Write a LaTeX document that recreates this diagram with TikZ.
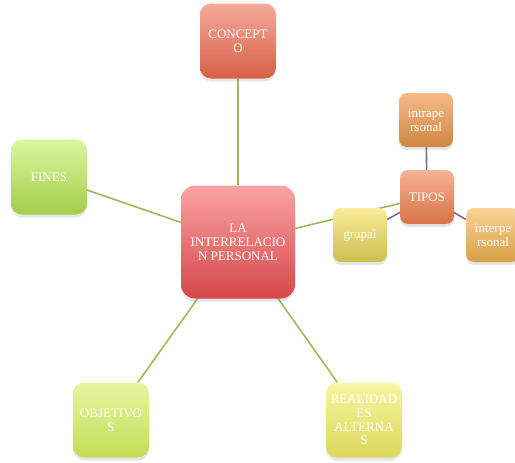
\documentclass[tikz,border=0pt]{standalone}
\usepackage{fontspec}
\setmainfont{Liberation Serif}
\usepackage{tikz}
\usetikzlibrary{shadows,backgrounds}

\definecolor{lnGreen}{RGB}{155,187,89}
\definecolor{lnPurple}{RGB}{128,100,162}
\definecolor{laTop}{RGB}{250,163,163}   \definecolor{laBot}{RGB}{214,71,74}
\definecolor{conTop}{RGB}{245,170,155}  \definecolor{conBot}{RGB}{215,95,70}
\definecolor{finTop}{RGB}{218,246,158}  \definecolor{finBot}{RGB}{165,205,75}
\definecolor{objTop}{RGB}{232,245,160}  \definecolor{objBot}{RGB}{195,220,85}
\definecolor{reaTop}{RGB}{247,246,162}  \definecolor{reaBot}{RGB}{220,215,90}
\definecolor{tipTop}{RGB}{246,178,148}  \definecolor{tipBot}{RGB}{215,115,70}
\definecolor{intTop}{RGB}{246,186,136}  \definecolor{intBot}{RGB}{205,135,65}
\definecolor{extTop}{RGB}{250,212,152}  \definecolor{extBot}{RGB}{215,160,70}
\definecolor{gruTop}{RGB}{250,236,152}  \definecolor{gruBot}{RGB}{205,190,80}

\tikzset{
  box/.style={rounded corners=11pt, inner sep=0pt, align=center, text=white,
    font=\fontsize{13}{13.8}\selectfont,
    drop shadow={shadow xshift=0pt, shadow yshift=-3pt, opacity=0.2}},
  bigbox/.style={box, minimum width=76pt, minimum height=75pt},
  smallbox/.style={box, rounded corners=8pt, minimum width=54pt, minimum height=54pt},
  tone/.style={top color=#1Top, bottom color=#1Bot},
  green line/.style={draw=lnGreen, line width=1.6pt},
  purple line/.style={draw=lnPurple, line width=1.6pt}
}

\begin{document}
\begin{tikzpicture}[x=1pt, y=-1pt]
      \useasboundingbox (0,0) rectangle (515,463);

      \node[bigbox, minimum width=114pt, minimum height=113pt, rounded corners=14pt,
            tone=la] (la) at (238, 242) {LA\\INTERRELACIO\\N PERSONAL};
      \node[bigbox, tone=con] (concepto) at (238, 41) {CONCEPT\\O};
      \node[bigbox, tone=fin] (fines) at (49, 177) {FINES};
      \node[bigbox, tone=obj] (objetivos) at (111, 420) {OBJETIVO\\S};
      \node[bigbox, tone=rea] (realidades) at (364, 420) {REALIDAD\\ES\\ALTERNA\\S};

      \node[smallbox, tone=tip] (tipos) at (427, 197) {TIPOS};
      \node[smallbox, tone=int] (intra) at (426, 120) {intrape\\rsonal};
      \node[smallbox, tone=ext] (inter) at (493, 235) {interpe\\rsonal};
      \node[smallbox, tone=gru] (grupal) at (360, 235) {grupal};

      \begin{pgfonlayer}{background}
        \draw[green line] (la) -- (concepto);
        \draw[green line] (la) -- (fines);
        \draw[green line] (la) -- (objetivos);
        \draw[green line] (la) -- (realidades);
        \draw[green line] (la) -- (tipos);
        \draw[purple line] (tipos) -- (intra);
        \draw[purple line] (tipos) -- (inter);
        \draw[purple line] (tipos) -- (grupal);
      \end{pgfonlayer}
    \end{tikzpicture}
\end{document}
